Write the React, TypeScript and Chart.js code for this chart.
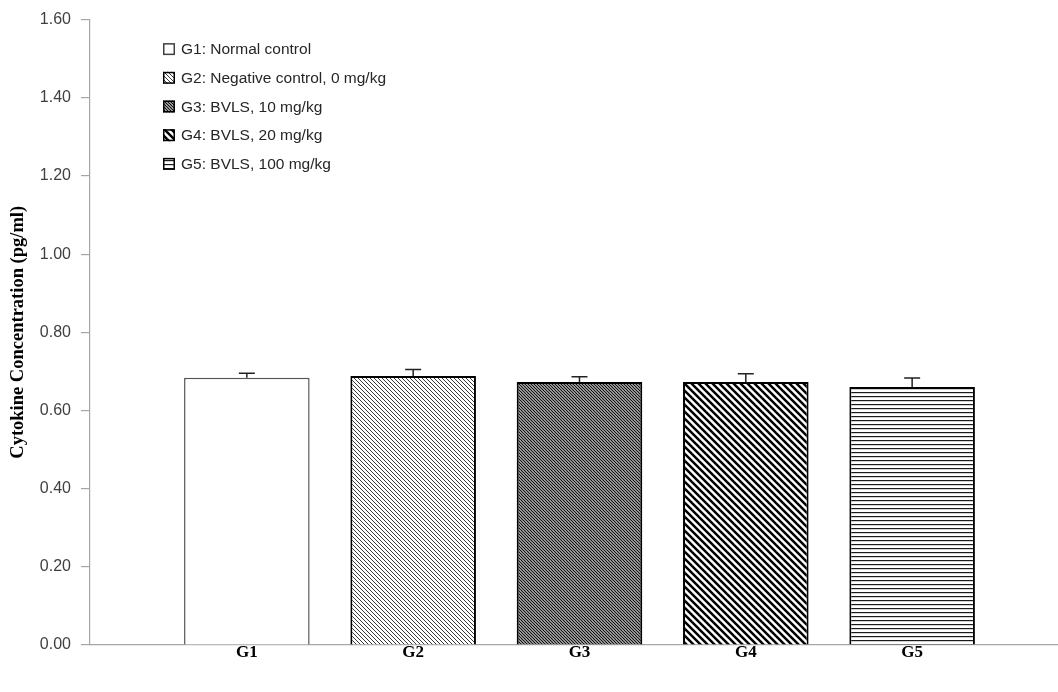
import React, { useEffect, useRef } from "react";
import { Chart, registerables } from "chart.js";

Chart.register(...registerables);

const categories = ["G1", "G2", "G3", "G4", "G5"];
const legendLabels = [
  "G1: Normal control",
  "G2: Negative control, 0 mg/kg",
  "G3: BVLS, 10 mg/kg",
  "G4: BVLS, 20 mg/kg",
  "G5: BVLS, 100 mg/kg",
];
const means = [0.684, 0.688, 0.673, 0.673, 0.66];
const errors = [0.011, 0.017, 0.013, 0.021, 0.023];
const yMin = 0;
const yMax = 1.6;
const yStep = 0.2;

function diagPattern(size: number, lw: number, color: string) {
  const c = document.createElement("canvas");
  c.width = size;
  c.height = size;
  const g = c.getContext("2d")!;
  g.fillStyle = "#ffffff";
  g.fillRect(0, 0, size, size);
  g.strokeStyle = color;
  g.lineWidth = lw;
  for (const k of [-1, 0, 1]) {
    g.beginPath();
    g.moveTo(-1, -1 + k * size);
    g.lineTo(size + 1, size + 1 + k * size);
    g.stroke();
  }
  const ctx = document.createElement("canvas").getContext("2d")!;
  return ctx.createPattern(c, "repeat")!;
}

function hPattern(period: number, color: string) {
  const c = document.createElement("canvas");
  c.width = 4;
  c.height = period;
  const g = c.getContext("2d")!;
  g.fillStyle = "#ffffff";
  g.fillRect(0, 0, 4, period);
  g.fillStyle = color;
  g.fillRect(0, 0, 4, 1.2);
  const ctx = document.createElement("canvas").getContext("2d")!;
  return ctx.createPattern(c, "repeat")!;
}

export default function App() {
  const ref = useRef<HTMLCanvasElement | null>(null);

  useEffect(() => {
    document.body.style.margin = "0";
    const canvas = ref.current!;
    const fills: (string | CanvasPattern)[] = [
      "#ffffff",
      diagPattern(4, 1, "#3a3a3a"),
      diagPattern(3, 1.3, "#111111"),
      diagPattern(7, 2.5, "#000000"),
      hPattern(4, "#1a1a1a"),
    ];
    const borders = ["#555555", "#000000", "#000000", "#000000", "#000000"];

    const errorBars = {
      id: "errorBars",
      afterDatasetsDraw(chart: any) {
        const ctx = chart.ctx;
        const xs = chart.scales.x;
        const ys = chart.scales.y;
        ctx.save();
        ctx.strokeStyle = "#222222";
        ctx.lineWidth = 1.5;
        means.forEach((m, i) => {
          const x = xs.getPixelForValue(i + 1);
          const y0 = ys.getPixelForValue(m);
          const y1 = ys.getPixelForValue(m + errors[i]);
          ctx.beginPath();
          ctx.moveTo(x, y0);
          ctx.lineTo(x, y1);
          ctx.moveTo(x - 8, y1);
          ctx.lineTo(x + 8, y1);
          ctx.stroke();
        });
        ctx.restore();
      },
    };

    const customLegend = {
      id: "customLegend",
      afterDraw(chart: any) {
        const ctx = chart.ctx;
        const area = chart.chartArea;
        const left = area.left + 73;
        const top = area.top + 29.5;
        const rowH = 28.7;
        const box = 12;
        ctx.save();
        ctx.font = "15.5px 'Liberation Sans', Arial, sans-serif";
        ctx.textBaseline = "middle";
        ctx.textAlign = "left";
        legendLabels.forEach((label, i) => {
          const cy = top + i * rowH;
          ctx.fillStyle = fills[i];
          ctx.fillRect(left, cy - box / 2, box, box);
          ctx.strokeStyle = i === 0 ? "#404040" : "#000000";
          ctx.lineWidth = 1.5;
          ctx.strokeRect(left + 0.75, cy - box / 2 + 0.75, box - 1.5, box - 1.5);
          ctx.fillStyle = "#262626";
          ctx.fillText(label, left + 18, cy + 1);
        });
        ctx.restore();
      },
    };

    const chart = new Chart(canvas, {
      type: "bar",
      data: {
        datasets: [
          {
            label: "Cytokine",
            data: means.map((v, i) => ({ x: i + 1, y: v })),
            backgroundColor: fills as any,
            borderColor: borders,
            borderWidth: [1.5, 2, 2, 2, 2],
            categoryPercentage: 1,
            barPercentage: 0.755,
          },
        ],
      },
      options: {
        responsive: false,
        animation: false,
        layout: { padding: { top: 11, right: 0, bottom: 0, left: 0 } },
        plugins: {
          legend: { display: false },
          tooltip: { enabled: false },
        },
        scales: {
          x: {
            type: "linear",
            offset: false,
            min: 0.057,
            max: 5.877,
            afterBuildTicks(scale: any) {
              scale.ticks = categories.map((_, i) => ({ value: i + 1 }));
            },
            afterFit(scale: any) {
              scale.height = 47;
            },
            ticks: {
              callback: (v: any) => categories[Math.round(Number(v)) - 1] ?? "",
              font: { family: "'Liberation Serif', 'Times New Roman', serif", size: 17, weight: "bold", lineHeight: 1 },
              color: "#000000",
              padding: -1,
              maxRotation: 0,
              autoSkip: false,
            },
            grid: { display: false, drawTicks: false },
            border: { display: true, color: "#a6a6a6", width: 1.2 },
          },
          y: {
            min: yMin,
            max: yMax,
            afterFit(scale: any) {
              scale.width = 90;
            },
            ticks: {
              stepSize: yStep,
              callback: (v: any) => Number(v).toFixed(2),
              font: { family: "'Liberation Sans', Arial, sans-serif", size: 16 },
              color: "#404040",
              padding: 10,
            },
            grid: {
              display: true,
              drawOnChartArea: false,
              drawTicks: true,
              tickLength: 9,
              color: "#a6a6a6",
              lineWidth: 1.2,
            },
            border: { display: true, color: "#a6a6a6", width: 1.2 },
            title: {
              display: true,
              text: "Cytokine Concentration (pg/ml)",
              font: { family: "'Liberation Serif', 'Times New Roman', serif", size: 18.5, weight: "bold" },
              color: "#000000",
              padding: { top: 7, bottom: 0 },
            },
          },
        },
      },
      plugins: [errorBars, customLegend],
    });
    return () => chart.destroy();
  }, []);

  return (
    <div style={{ width: 1058, height: 692 }}>
      <canvas ref={ref} width={1058} height={692} style={{ display: "block" }} />
    </div>
  );
}
